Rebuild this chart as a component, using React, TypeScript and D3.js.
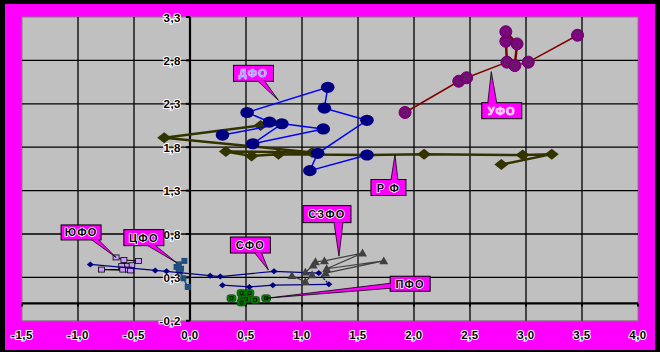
import React from "react";
import * as d3 from "d3";

// ---------- data ----------
const xTicks = [-1.5, -1.0, -0.5, 0.0, 0.5, 1.0, 1.5, 2.0, 2.5, 3.0, 3.5, 4.0];
const yTicks = [-0.2, 0.3, 0.8, 1.3, 1.8, 2.3, 2.8, 3.3];

const dfo: [number, number][] = [
  [0.29, 1.94], [0.82, 2.07], [0.56, 1.84], [1.19, 2.01], [0.71, 2.09], [0.51, 2.2],
  [1.23, 2.49], [1.2, 2.25], [1.58, 2.11], [1.14, 1.73], [1.07, 1.53], [1.58, 1.71],
];
const rf: [number, number][] = [
  [0.63, 2.05], [-0.23, 1.91], [1.09, 1.74], [0.32, 1.75], [0.55, 1.7], [0.79, 1.72],
  [1.59, 1.71], [2.09, 1.72], [2.97, 1.71], [3.23, 1.72], [2.78, 1.6],
];
const ural: [number, number][] = [
  [1.92, 2.2], [2.4, 2.56], [2.47, 2.6], [2.83, 2.78], [2.82, 3.02], [2.82, 3.13],
  [2.92, 2.99], [2.9, 2.74], [3.02, 2.78], [3.46, 3.09],
];
const yufo: [number, number][] = [
  [-0.66, 0.53], [-0.59, 0.5], [-0.46, 0.49], [-0.52, 0.44], [-0.57, 0.43],
  [-0.61, 0.43], [-0.6, 0.39], [-0.55, 0.39], [-0.79, 0.39], [-0.53, 0.38],
];
const cfo: [number, number][] = [
  [-0.05, 0.49], [-0.1, 0.45], [-0.12, 0.42], [-0.08, 0.4], [-0.1, 0.38],
  [-0.09, 0.37], [-0.06, 0.29], [-0.02, 0.19],
];
const sfo: [number, number][] = [
  [-0.89, 0.45], [-0.31, 0.38], [-0.21, 0.37], [0.18, 0.32], [0.27, 0.31], [0.75, 0.37],
  [1.15, 0.35], [1.24, 0.22], [0.74, 0.21], [0.53, 0.19], [0.29, 0.21],
];
const szfo: [number, number][] = [
  [0.91, 0.32], [1.03, 0.25], [1.09, 0.33], [1.03, 0.36], [1.1, 0.44], [1.12, 0.48],
  [1.2, 0.49], [1.54, 0.58], [1.22, 0.4], [1.73, 0.49], [1.21, 0.35],
];
const pfo: [number, number][] = [
  [0.37, 0.06], [0.46, 0.12], [0.53, 0.12], [0.47, 0.05], [0.5, 0.05],
  [0.46, 0.01], [0.58, 0.04], [0.68, 0.06],
];

// callouts: label, tip in data coords
const calloutLabels = ["ДФО", "УФО", "ЮФО", "ЦФО", "СФО", "СЗФО", "Р Ф", "ПФО"];
const calloutTips: [number, number][] = [
  [0.79, 2.34], [2.69, 2.67], [-0.66, 0.53], [-0.12, 0.47], [0.7, 0.385], [1.33, 0.545], [1.83, 1.71], [0.68, 0.06],
];

// ---------- layout / style ----------
const W = 660, H = 352;
const PL = 22, PR = 638, PT = 17, PB = 320.8;

const callStyle = [
  { dx: -45, dy: -35, w: 40, h: 16, side: "bottom", b0: 24, b1: 31, color: "#8fb4ff" },
  { dx: -9.5, dy: 31, w: 40, h: 16, side: "top", b0: 6, b1: 15, color: "#f4d0f4" },
  { dx: -55, dy: -32.5, w: 40, h: 15, side: "bottom", b0: 30, b1: 37, color: "#000" },
  { dx: -52.7, dy: -33, w: 40, h: 16, side: "bottom", b0: 23, b1: 31, color: "#000" },
  { dx: -38, dy: -33, w: 40, h: 16, side: "bottom", b0: 24, b1: 31, color: "#000" },
  { dx: -36, dy: -50.5, w: 48, h: 17, side: "bottom", b0: 31, b1: 40, color: "#000" },
  { dx: -24, dy: 24.5, w: 35, h: 16, side: "top", b0: 20, b1: 27, color: "#000" },
  { dx: 124, dy: -22, w: 40, h: 15, side: "left", b0: 7, b1: 12, color: "#000" },
];

export default function App() {
  const x = d3.scaleLinear().domain([-1.5, 4]).range([PL, PR]);
  const y = d3.scaleLinear().domain([-0.2, 3.3]).range([PB, PT]);
  const line = d3.line<[number, number]>().x((d) => x(d[0])).y((d) => y(d[1]));
  const fmt = (v: number) => d3.format(".1f")(v).replace(".", ",").replace("−", "-");

  const diamond = (cx: number, cy: number, hw: number, hh: number) =>
    `M${cx},${cy - hh}L${cx + hw},${cy}L${cx},${cy + hh}L${cx - hw},${cy}Z`;
  const tri = (cx: number, cy: number, s: number) =>
    `M${cx},${cy - s}L${cx + s},${cy + s * 0.75}L${cx - s},${cy + s * 0.75}Z`;

  const x0 = x(0), y0 = y(0);

  return (
    <svg width={W} height={H} style={{ position: "absolute", left: 0, top: 0 }}
      fontFamily="'Liberation Sans', Arial, sans-serif">
      <rect x={0} y={0} width={W} height={H} fill="#000" />
      <rect x={5} y={4} width={650} height={346} fill="#ff00ff" />
      <rect x={PL} y={PT} width={PR - PL} height={PB - PT} fill="#c0c0c0" stroke="#808080" strokeWidth={1} />

      {/* grid */}
      {xTicks.filter((t) => t > -1.5 && t < 4 && t !== 0).map((t) => (
        <line key={"gx" + t} x1={x(t)} x2={x(t)} y1={PT} y2={PB} stroke="#000" strokeWidth={1.3} />
      ))}
      {yTicks.filter((t) => t > -0.2 && t < 3.3).map((t) => (
        <line key={"gy" + t} x1={PL} x2={PR} y1={y(t)} y2={y(t)} stroke="#000" strokeWidth={1.3} />
      ))}
      {/* axes */}
      <line x1={x0} x2={x0} y1={PT} y2={PB} stroke="#000" strokeWidth={2.2} />
      <line x1={PL} x2={PR} y1={y0} y2={y0} stroke="#000" strokeWidth={2.2} />
      {yTicks.map((t) => (
        <line key={"ty" + t} x1={x0 - 4} x2={x0} y1={y(t)} y2={y(t)} stroke="#000" strokeWidth={2} />
      ))}
      {xTicks.map((t) => (
        <line key={"tx" + t} x1={x(t)} x2={x(t)} y1={y0} y2={y0 + 3} stroke="#000" strokeWidth={2} />
      ))}
      {yTicks.map((t) => (
        <text key={"ly" + t} x={x0 - 9} y={y(t) + 4.5} textAnchor="end" fontSize={11.5} fontWeight="bold"
          fill="#000" stroke="#fff" strokeWidth={2} paintOrder="stroke" letterSpacing={0.5}>{fmt(t)}</text>
      ))}
      {xTicks.map((t) => (
        <text key={"lx" + t} x={x(t)} y={339} textAnchor="middle" fontSize={11.5} fontWeight="bold"
          fill="#000" stroke="#fff" strokeWidth={2} paintOrder="stroke" letterSpacing={0.5}>{fmt(t)}</text>
      ))}

      {/* РФ */}
      <path d={line(rf) || ""} fill="none" stroke="#333300" strokeWidth={2.5} />
      {rf.map((d, i) => (
        <path key={"rf" + i} d={diamond(x(d[0]), y(d[1]), 7, 5.5)} fill="#333300" />
      ))}

      {/* ДФО */}
      <path d={line(dfo) || ""} fill="none" stroke="#0000ff" strokeWidth={1.5} />
      {dfo.map((d, i) => (
        <ellipse key={"df" + i} cx={x(d[0])} cy={y(d[1])} rx={6.8} ry={5.6} fill="#000080" />
      ))}

      {/* Урал */}
      <path d={line(ural.slice(0, 4)) || ""} fill="none" stroke="#800000" strokeWidth={1.5} />
      <path d={line(ural.slice(3, 8)) || ""} fill="none" stroke="#800000" strokeWidth={2.5} />
      <path d={line(ural.slice(7)) || ""} fill="none" stroke="#800000" strokeWidth={1.5} />
      {ural.map((d, i) => (
        <g key={"ur" + i}>
          <circle cx={x(d[0])} cy={y(d[1])} r={6} fill="#800080" stroke="#660066" strokeWidth={1} />
          <circle cx={x(d[0])} cy={y(d[1])} r={2.5} fill="none" stroke="#4a3a4a" strokeWidth={1} />
        </g>
      ))}

      {/* ЮФО */}
      <path d={line(yufo) || ""} fill="none" stroke="#000" strokeWidth={1} />
      {yufo.map((d, i) => (
        <rect key={"yu" + i} x={x(d[0]) - 3} y={y(d[1]) - 2.5} width={6} height={5} fill="#cc99ff" stroke="#000" strokeWidth={0.8} />
      ))}

      {/* ЦФО */}
      <path d={line(cfo) || ""} fill="none" stroke="#1f4f7f" strokeWidth={1.5} />
      {cfo.map((d, i) => (
        <rect key={"cf" + i} x={x(d[0]) - 3} y={y(d[1]) - 3} width={6} height={6} fill="#1f4f7f" />
      ))}

      {/* СФО */}
      <path d={line(sfo.slice(0, 7)) || ""} fill="none" stroke="#000080" strokeWidth={1.2} />
      <path d={line(sfo.slice(6, 8)) || ""} fill="none" stroke="#000080" strokeWidth={1.2} strokeDasharray="2,1.5" />
      <path d={line(sfo.slice(7)) || ""} fill="none" stroke="#000080" strokeWidth={1.2} />
      {sfo.map((d, i) => (
        <path key={"sf" + i} d={diamond(x(d[0]), y(d[1]), 3.5, 3)} fill="#000080" />
      ))}

      {/* СЗФО */}
      <path d={line(szfo) || ""} fill="none" stroke="#404040" strokeWidth={1.2} />
      {szfo.map((d, i) => (
        <path key={"sz" + i} d={tri(x(d[0]), y(d[1]), 4.5)} fill="#404040" />
      ))}

      {/* ПФО */}
      {pfo.map((d, i) => (
        <g key={"pf" + i}>
          <rect x={x(d[0]) - 4.5} y={y(d[1]) - 3.5} width={9} height={7} rx={2.5} fill="#008000" stroke="#004000" strokeWidth={0.6} />
          <rect x={x(d[0]) - 1.5} y={y(d[1]) - 1.5} width={3} height={3} fill="none" stroke="#000" strokeWidth={0.8} />
        </g>
      ))}

      {/* callouts */}
      {calloutLabels.map((lab, i) => {
        const s = callStyle[i];
        const tx = x(calloutTips[i][0]), ty = y(calloutTips[i][1]);
        const bx = tx + s.dx, by = ty + s.dy;
        let ptr = "";
        if (s.side === "bottom") ptr = `M${bx + s.b0},${by + s.h - 0.5}L${tx},${ty}L${bx + s.b1},${by + s.h - 0.5}`;
        else if (s.side === "top") ptr = `M${bx + s.b0},${by + 0.5}L${tx},${ty}L${bx + s.b1},${by + 0.5}`;
        else ptr = `M${bx + 0.5},${by + s.b0}L${tx},${ty}L${bx + 0.5},${by + s.b1}`;
        return (
          <g key={"co" + i}>
            <rect x={bx} y={by} width={s.w} height={s.h} fill="#ff00ff" stroke="#000" strokeWidth={1} />
            <path d={ptr} fill="#ff00ff" stroke="#000" strokeWidth={0.8} />
            <text x={bx + s.w / 2} y={by + s.h / 2 + 4} textAnchor="middle" fontSize={11} fontWeight="bold"
              fill={s.color} stroke="#fff" strokeWidth={s.color === "#000" ? 1.6 : 0.6} paintOrder="stroke"
              letterSpacing={1.2}>{lab}</text>
          </g>
        );
      })}
    </svg>
  );
}
